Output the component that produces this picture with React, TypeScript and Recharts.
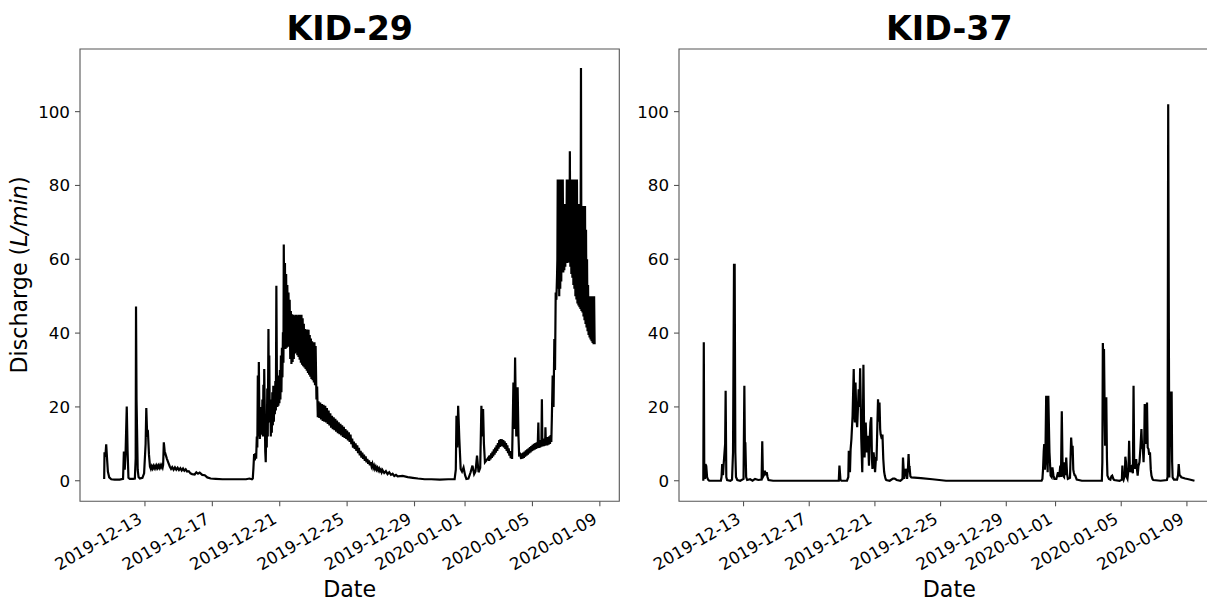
import { LineChart, Line, XAxis, YAxis, ReferenceArea } from "recharts";

// days counted from 2019-12-13 00:00
const tickDays = [0, 4, 8, 12, 16, 19, 23, 27];
const tickLabels = [
  "2019-12-13",
  "2019-12-17",
  "2019-12-21",
  "2019-12-25",
  "2019-12-29",
  "2020-01-01",
  "2020-01-05",
  "2020-01-09",
];
const yTicks = [0, 20, 40, 60, 80, 100];

// [day, discharge L/min]
const kid29: [number, number][] = [
  [-2.42, 0.5], [-2.40, 7.7], [-2.35, 6.5], [-2.30, 9.9], [-2.25, 6.0], [-2.20, 2.5], [-2.12, 0.9], [-2.00, 0.4], [-1.80, 0.3], [-1.50, 0.3], [-1.30, 0.5],
  [-1.25, 7.9], [-1.20, 3.0], [-1.15, 7.5], [-1.08, 20.1], [-1.03, 8.0], [-0.98, 0.8], [-0.90, 0.5], [-0.70, 0.5], [-0.60, 0.6],
  [-0.55, 6.0], [-0.53, 47.2], [-0.50, 22.0], [-0.47, 14.0], [-0.43, 3.0], [-0.38, 1.0], [-0.30, 0.6], [-0.15, 0.8], [-0.05, 2.0],
  [0.04, 10.0], [0.08, 19.7], [0.13, 12.5], [0.18, 12.9], [0.24, 7.0], [0.30, 3.8],
  [0.35, 3.2], [0.40, 3.9], [0.45, 3.3], [0.50, 4.0], [0.55, 3.4], [0.60, 4.0], [0.65, 3.4], [0.70, 4.1], [0.75, 3.5], [0.80, 4.1], [0.85, 3.5],
  [0.90, 4.2], [0.95, 3.6], [1.00, 4.2], [1.05, 3.6], [1.08, 4.3],
  [1.12, 10.4], [1.17, 8.0], [1.22, 7.2], [1.30, 6.0], [1.38, 5.0], [1.48, 3.8], [1.55, 3.2], [1.62, 3.7], [1.70, 3.0], [1.78, 3.6], [1.86, 3.0],
  [1.94, 3.5], [2.02, 2.9], [2.10, 3.4], [2.18, 2.8], [2.26, 3.3], [2.34, 2.7], [2.42, 3.1], [2.50, 2.5], [2.60, 2.6], [2.70, 2.0], [2.80, 1.8],
  [2.95, 1.7], [3.05, 2.3], [3.15, 1.9], [3.25, 2.2], [3.40, 1.6], [3.55, 1.5], [3.70, 0.9], [3.90, 0.6], [4.20, 0.5],
  [4.60, 0.4], [5.00, 0.4], [5.50, 0.4], [6.00, 0.4], [6.20, 0.6], [6.35, 0.4],
  [6.40, 0.6], [6.44, 3.5], [6.48, 7.2], [6.52, 5.5], [6.56, 7.5], [6.60, 6.0], [6.64, 12.0], [6.67, 9.0], [6.70, 28.5], [6.73, 12.0], [6.76, 32.2],
  [6.79, 18.0], [6.82, 11.3], [6.85, 20.0], [6.88, 12.5], [6.91, 16.0], [6.94, 13.0], [6.97, 22.0], [7.00, 12.0], [7.03, 26.0], [7.06, 14.0],
  [7.08, 30.3], [7.11, 20.3], [7.14, 8.0], [7.17, 5.0], [7.20, 15.0], [7.23, 9.0], [7.26, 25.0], [7.29, 12.0], [7.33, 41.1], [7.36, 20.0],
  [7.38, 33.9], [7.41, 15.8], [7.44, 22.0], [7.47, 12.0], [7.50, 20.0], [7.53, 13.0], [7.56, 24.0], [7.59, 15.0], [7.62, 25.7], [7.65, 16.0],
  [7.68, 23.0], [7.71, 18.0], [7.74, 27.0], [7.77, 19.0], [7.80, 52.8], [7.83, 29.4], [7.86, 20.0], [7.89, 26.0], [7.92, 20.3], [7.95, 28.5],
  [7.98, 21.0], [8.01, 30.0], [8.04, 22.0], [8.07, 33.9], [8.10, 24.0], [8.13, 36.0], [8.16, 28.0], [8.19, 40.2], [8.22, 32.0], [8.24, 64.0],
  [8.28, 36.0], [8.31, 59.0], [8.345, 35.7], [8.38, 56.0], [8.415, 36.0], [8.45, 53.0], [8.485, 36.3], [8.52, 51.0], [8.555, 36.6], [8.59, 49.0],
  [8.625, 33.0], [8.66, 46.0], [8.695, 31.6], [8.73, 45.1], [8.765, 32.2], [8.80, 45.0], [8.835, 33.0], [8.87, 44.6], [8.905, 34.5], [8.94, 45.0],
  [8.975, 34.8], [9.01, 45.0], [9.045, 34.0], [9.08, 44.7], [9.115, 33.5], [9.15, 45.0], [9.185, 32.8], [9.22, 45.0], [9.255, 32.0], [9.29, 45.0],
  [9.325, 31.4], [9.36, 44.0], [9.395, 31.0], [9.43, 42.5], [9.465, 30.7], [9.50, 41.1], [9.535, 30.3], [9.57, 41.0], [9.605, 29.8], [9.64, 41.0],
  [9.675, 29.2], [9.71, 40.9], [9.745, 28.7], [9.78, 39.5], [9.815, 28.2], [9.85, 38.5], [9.885, 27.6], [9.92, 37.8], [9.955, 27.2], [9.99, 37.5],
  [10.025, 26.6], [10.06, 37.5], [10.095, 25.9], [10.13, 36.5],
  [10.18, 22.0], [10.22, 25.5], [10.26, 17.2], [10.30, 21.5], [10.35, 17.0], [10.40, 21.2], [10.45, 16.6], [10.50, 20.8], [10.55, 16.2], [10.60, 20.6],
  [10.65, 16.0], [10.70, 20.3], [10.75, 15.8], [10.80, 19.7], [10.85, 15.4], [10.90, 19.0], [10.95, 15.0], [11.00, 18.3], [11.05, 14.4], [11.10, 17.6],
  [11.15, 14.0], [11.20, 17.2], [11.25, 13.7], [11.30, 16.8], [11.35, 13.3], [11.40, 16.3], [11.45, 12.9], [11.50, 15.8], [11.55, 12.6], [11.60, 15.4],
  [11.65, 12.3], [11.70, 15.0], [11.75, 11.9], [11.80, 14.6], [11.85, 11.6], [11.90, 14.0], [11.95, 11.3], [12.00, 13.6], [12.05, 10.9], [12.10, 13.1],
  [12.15, 10.5], [12.20, 12.5], [12.25, 9.9], [12.30, 11.4], [12.35, 9.0], [12.40, 10.6], [12.45, 8.6], [12.50, 10.1], [12.55, 8.1], [12.60, 9.6],
  [12.65, 7.5], [12.70, 8.9], [12.75, 6.9], [12.80, 8.1], [12.85, 6.3], [12.90, 7.6], [12.95, 5.9], [13.00, 7.1], [13.05, 5.4], [13.10, 6.6],
  [13.15, 5.0], [13.20, 5.9], [13.25, 4.6], [13.30, 5.5], [13.35, 4.2], [13.40, 5.0], [13.45, 3.9], [13.50, 4.6], [13.55, 3.5], [13.60, 4.1],
  [13.65, 3.2], [13.70, 3.8], [13.75, 3.0], [13.80, 3.5], [13.85, 2.8], [13.90, 3.3], [13.95, 2.6], [14.00, 3.0], [14.05, 2.3], [14.10, 2.9],
  [14.20, 2.1], [14.30, 2.6], [14.40, 1.8], [14.50, 2.3], [14.60, 1.6], [14.70, 1.9], [14.80, 1.3], [14.90, 1.6], [15.00, 1.2], [15.30, 1.3],
  [15.60, 1.0], [15.90, 0.8], [16.20, 0.6], [16.60, 0.4], [17.00, 0.4], [17.50, 0.3], [18.00, 0.4], [18.38, 0.4],
  [18.45, 3.0], [18.49, 17.6], [18.54, 9.0], [18.59, 20.3], [18.66, 11.3], [18.74, 3.2], [18.82, 2.5], [18.91, 3.6], [19.00, 1.5], [19.08, 0.5],
  [19.20, 0.6], [19.33, 2.3], [19.44, 4.1], [19.54, 1.8], [19.62, 2.5], [19.71, 6.8], [19.80, 2.3], [19.90, 3.5], [19.97, 20.3], [20.02, 12.0],
  [20.07, 19.4], [20.12, 10.0], [20.18, 5.0], [20.28, 5.6], [20.39, 6.3],
  [20.43, 5.4], [20.47, 6.9], [20.51, 5.8], [20.55, 7.4], [20.59, 6.2], [20.63, 7.9], [20.67, 6.6], [20.71, 8.5], [20.75, 7.1], [20.79, 9.0],
  [20.83, 7.6], [20.87, 9.6], [20.91, 8.1], [20.95, 10.2], [20.99, 8.7], [21.03, 11.0], [21.07, 9.2], [21.11, 11.3], [21.15, 9.4], [21.19, 11.2],
  [21.23, 9.3], [21.27, 11.0], [21.31, 9.0], [21.35, 10.7], [21.39, 8.6], [21.43, 10.2], [21.47, 8.1], [21.51, 9.6], [21.55, 7.5], [21.59, 8.8],
  [21.63, 6.8], [21.67, 8.0], [21.71, 6.1], [21.75, 7.3], [21.79, 5.9],
  [21.84, 18.0], [21.87, 26.6], [21.92, 14.0], [21.97, 33.4], [22.01, 20.0], [22.04, 12.0], [22.08, 20.0], [22.12, 25.3], [22.17, 12.0], [22.21, 7.0],
  [22.27, 7.2], [22.33, 5.9], [22.37, 7.4], [22.41, 6.0], [22.45, 7.6], [22.49, 6.2], [22.53, 7.9], [22.57, 6.5], [22.61, 8.2], [22.65, 6.8],
  [22.69, 8.5], [22.73, 7.1], [22.77, 8.8], [22.81, 7.4], [22.85, 9.1], [22.89, 7.7], [22.93, 9.4], [22.97, 8.0], [23.01, 9.7], [23.05, 8.2],
  [23.09, 10.0], [23.13, 8.4], [23.17, 10.2], [23.21, 8.6], [23.25, 10.4], [23.29, 8.8], [23.32, 10.6], [23.35, 15.8], [23.38, 8.9], [23.42, 10.8],
  [23.46, 9.0], [23.50, 11.0], [23.53, 9.2], [23.56, 22.1], [23.59, 9.3], [23.63, 11.2], [23.67, 9.4], [23.71, 11.4], [23.75, 9.5], [23.77, 14.5],
  [23.80, 9.6], [23.84, 11.6], [23.88, 9.6], [23.92, 11.8], [23.96, 9.8], [24.00, 12.0], [24.04, 10.0], [24.08, 12.4], [24.12, 10.5], [24.15, 16.7],
  [24.20, 28.5], [24.25, 20.0], [24.30, 38.4], [24.34, 30.0], [24.38, 51.0], [24.42, 49.0], [24.46, 55.6],
  [24.48, 60.0], [24.50, 81.6], [24.53, 52.0], [24.56, 81.6], [24.59, 50.0], [24.62, 78.0], [24.65, 52.0], [24.68, 81.6], [24.71, 54.0], [24.74, 75.0],
  [24.77, 56.4], [24.80, 81.6], [24.83, 56.4], [24.86, 75.0], [24.89, 57.0], [24.92, 74.0], [24.95, 58.0], [24.98, 75.0], [25.01, 59.1], [25.04, 81.6],
  [25.07, 59.0], [25.10, 78.0], [25.13, 59.1], [25.17, 81.6], [25.20, 60.0], [25.22, 89.3], [25.25, 58.0], [25.28, 81.6], [25.31, 56.0], [25.34, 76.0],
  [25.37, 55.0], [25.40, 81.6], [25.43, 53.0], [25.46, 75.0], [25.49, 52.0], [25.52, 81.6], [25.55, 50.0], [25.58, 75.0], [25.61, 49.1], [25.64, 81.6],
  [25.67, 48.0], [25.70, 74.4], [25.73, 47.5], [25.76, 75.0], [25.79, 47.0], [25.82, 74.0], [25.85, 46.5], [25.88, 111.8], [25.91, 46.0], [25.94, 74.4],
  [25.97, 45.6], [26.00, 74.4], [26.03, 44.5], [26.06, 74.4], [26.09, 43.5], [26.12, 74.4], [26.15, 42.5], [26.18, 68.0], [26.21, 41.5], [26.24, 60.0],
  [26.27, 40.5], [26.30, 53.0], [26.33, 39.5], [26.36, 50.0], [26.39, 38.8], [26.42, 50.0], [26.45, 38.3], [26.48, 50.0], [26.51, 37.8], [26.54, 50.0],
  [26.57, 37.3], [26.60, 50.0], [26.63, 37.0], [26.66, 50.0], [26.69, 37.0],
];

const kid37: [number, number][] = [
  [-2.45, 0.0], [-2.42, 37.5], [-2.39, 1.0], [-2.35, 0.5], [-2.32, 4.5], [-2.27, 4.0], [-2.22, 1.0], [-2.16, 0.3], [-2.09, 0.0], [-1.70, 0.0], [-1.38, 0.0],
  [-1.34, 1.0], [-1.30, 4.5], [-1.25, 1.5], [-1.21, 4.5], [-1.12, 10.0], [-1.09, 24.4], [-1.05, 1.0], [-1.00, 0.2], [-0.80, 0.0], [-0.70, 0.3],
  [-0.64, 7.7], [-0.58, 58.5], [-0.54, 58.5], [-0.50, 7.7], [-0.46, 1.0], [-0.38, 0.2], [-0.20, 0.0], [0.00, 0.5],
  [0.05, 25.7], [0.08, 10.0], [0.11, 10.4], [0.16, 1.0], [0.22, 0.2], [0.40, 0.4], [0.55, 0.0], [0.70, 0.5], [0.90, 0.2], [1.10, 0.3],
  [1.14, 10.7], [1.18, 1.0], [1.24, 1.5], [1.30, 2.7], [1.36, 1.5], [1.41, 2.3], [1.46, 1.0], [1.52, 0.2], [1.80, 0.0], [3.00, 0.0], [4.50, 0.0], [5.80, 0.0],
  [5.84, 4.1], [5.90, 0.3], [5.96, 0.0], [6.30, 0.0], [6.38, 1.0],
  [6.41, 8.1], [6.48, 2.3], [6.52, 8.5], [6.57, 11.3], [6.64, 17.6], [6.71, 30.3], [6.75, 18.0], [6.78, 15.8], [6.82, 26.6], [6.87, 17.0], [6.92, 14.5],
  [6.97, 20.0], [7.01, 24.8], [7.06, 20.0], [7.10, 30.5], [7.14, 20.0], [7.17, 11.3], [7.23, 2.3], [7.27, 15.0], [7.30, 31.4], [7.34, 14.0], [7.37, 6.3],
  [7.44, 15.8], [7.51, 7.7], [7.57, 12.2], [7.64, 4.1], [7.69, 12.0], [7.73, 15.8], [7.78, 17.2], [7.82, 6.0], [7.85, 3.2], [7.92, 7.7], [7.97, 5.0],
  [8.01, 2.3], [8.06, 6.0], [8.10, 5.9], [8.15, 15.0], [8.19, 22.1], [8.24, 16.0], [8.28, 21.2], [8.32, 14.0], [8.35, 12.6], [8.42, 11.3], [8.46, 12.5],
  [8.51, 5.9], [8.56, 2.5], [8.60, 1.4], [8.65, 0.5], [8.69, 0.2], [8.90, 0.0],
  [9.10, 0.6], [9.20, 0.6], [9.33, 0.2], [9.55, 0.0], [9.68, 0.5], [9.71, 6.3], [9.75, 3.0], [9.78, 0.5], [9.83, 2.0], [9.87, 3.2], [9.92, 2.5],
  [9.96, 0.5], [10.01, 3.0], [10.05, 7.2], [10.09, 3.0], [10.12, 3.2], [10.16, 1.2], [10.22, 0.9], [10.80, 0.7], [11.50, 0.4], [12.33, 0.0], [15.00, 0.0], [18.15, 0.0],
  [18.20, 0.5], [18.24, 3.2], [18.28, 8.0], [18.31, 9.9], [18.35, 3.0], [18.38, 5.8], [18.43, 23.0], [18.47, 8.0], [18.52, 2.3], [18.56, 23.0], [18.60, 14.0],
  [18.63, 7.7], [18.70, 1.4], [18.76, 1.0], [18.81, 3.6], [18.87, 1.5], [18.93, 0.5], [19.05, 0.5], [19.15, 2.3], [19.22, 1.0], [19.29, 4.1], [19.33, 1.0],
  [19.38, 18.8], [19.42, 6.0], [19.45, 1.4], [19.52, 1.0], [19.56, 5.0], [19.61, 1.5], [19.65, 6.3], [19.70, 2.0], [19.75, 0.5], [19.88, 0.8], [19.95, 11.7],
  [20.00, 8.0], [20.04, 9.5], [20.08, 3.0], [20.11, 2.3], [20.16, 1.5], [20.20, 1.4], [20.29, 0.3], [20.60, 0.0], [21.20, 0.0], [21.82, 0.0],
  [21.85, 5.0], [21.88, 37.3], [21.92, 30.0], [21.95, 35.7], [22.00, 15.0], [22.02, 9.5], [22.06, 20.0], [22.09, 22.6], [22.13, 6.0], [22.16, 1.4],
  [22.25, 0.5], [22.34, 0.3], [22.40, 1.2], [22.45, 1.4], [22.52, 0.5], [22.57, 0.2], [22.90, 0.0], [23.04, 0.3],
  [23.07, 4.1], [23.11, 0.5], [23.14, 0.2], [23.22, 1.5], [23.25, 6.5], [23.29, 5.0], [23.33, 1.0], [23.38, 0.5], [23.44, 3.0], [23.48, 10.8], [23.52, 4.5],
  [23.57, 2.3], [23.62, 4.0], [23.66, 4.1], [23.71, 2.0], [23.75, 25.7], [23.79, 5.0], [23.82, 3.2], [23.87, 4.5], [23.91, 5.9], [23.96, 3.0], [24.00, 1.4],
  [24.05, 4.0], [24.11, 5.0], [24.17, 9.0], [24.23, 14.0], [24.27, 9.0], [24.32, 8.6], [24.36, 5.0], [24.40, 10.0], [24.43, 20.8], [24.47, 10.0],
  [24.50, 13.0], [24.54, 16.0], [24.57, 21.2], [24.61, 9.0], [24.66, 8.6], [24.70, 7.0], [24.75, 7.7], [24.80, 3.0], [24.84, 1.4], [24.90, 0.5],
  [24.95, 0.2], [25.40, 0.0], [25.78, 0.2],
  [25.82, 1.0], [25.86, 102.0], [25.90, 40.0], [25.93, 0.9], [25.96, 10.0], [25.98, 23.9], [26.07, 23.9], [26.10, 5.0], [26.13, 0.9], [26.21, 0.3],
  [26.40, 0.3], [26.46, 1.5], [26.50, 4.5], [26.55, 1.5], [26.59, 1.4], [26.66, 0.9], [26.89, 0.6], [27.10, 0.4], [27.46, 0.0],
];

const font = "DejaVu Sans, sans-serif";
const yDomain: [number, number] = [-5.57, 116.97];
const frame = "#555";

function DateTick({ x, y, payload }: any) {
  const label = tickLabels[tickDays.indexOf(payload.value)];
  return (
    <g transform={`translate(${x - 1.75},${y + 11})`}>
      <text textAnchor="end" transform="rotate(-30)" fontSize={16.7} fontFamily={font} fill="#000">
        {label}
      </text>
    </g>
  );
}

function Panel({ series, left, width, plotLeft, plotWidth, xDomain }: any) {
  const rows = series.map(([t, v]: [number, number]) => ({ t, v }));
  const axisW = 30;
  const axisH = 30;
  return (
    <div style={{ position: "absolute", left, top: 0 }}>
      <LineChart
        width={width}
        height={603}
        data={rows}
        margin={{
          top: 49,
          right: width - plotLeft - plotWidth,
          bottom: 101.7 - axisH,
          left: plotLeft - axisW,
        }}
      >
        <XAxis
          type="number"
          dataKey="t"
          domain={xDomain}
          ticks={tickDays}
          interval={0}
          height={axisH}
          tickSize={5}
          tickMargin={5}
          axisLine={false}
          tickLine={{ stroke: frame, strokeWidth: 1.1 }}
          tick={(p: any) => <DateTick {...p} />}
          allowDataOverflow
        />
        <YAxis
          type="number"
          domain={yDomain}
          ticks={yTicks}
          interval={0}
          width={axisW}
          tickSize={5}
          tickMargin={5}
          axisLine={false}
          tickLine={{ stroke: frame, strokeWidth: 1.1 }}
          tick={{ fill: "#000", fontSize: 16.7, fontFamily: font }}
          allowDataOverflow
        />
        <Line
          type="linear"
          dataKey="v"
          stroke="#000"
          strokeWidth={2.2}
          dot={false}
          isAnimationActive={false}
        />
        <ReferenceArea
          x1={xDomain[0]}
          x2={xDomain[1]}
          y1={yDomain[0]}
          y2={yDomain[1]}
          fill="none"
          stroke={frame}
          strokeWidth={1.1}
          ifOverflow="visible"
        />
      </LineChart>
    </div>
  );
}

export default function App() {
  return (
    <div
      style={{
        position: "fixed",
        left: 0,
        top: 0,
        width: 1207,
        height: 603,
        overflow: "hidden",
        background: "#fff",
      }}
    >
      <Panel series={kid29} left={0} width={640} plotLeft={80} plotWidth={539.3} xDomain={[-3.855, 28.155]} />
      <Panel series={kid37} left={590} width={650} plotLeft={89} plotWidth={540.6} xDomain={[-3.93, 28.99]} />
      <svg width={1207} height={603} style={{ position: "absolute", left: 0, top: 0, pointerEvents: "none" }}>
        <g fontFamily={font} fill="#000">
          <text x={349.7} y={40} textAnchor="middle" fontSize={33.3} fontWeight="bold">KID-29</text>
          <text x={949.3} y={40} textAnchor="middle" fontSize={33.3} fontWeight="bold">KID-37</text>
          <text x={349.7} y={597} textAnchor="middle" fontSize={22.2}>Date</text>
          <text x={949.3} y={597} textAnchor="middle" fontSize={22.2}>Date</text>
          <text transform="translate(27,275) rotate(-90)" textAnchor="middle" fontSize={22.2}>
            Discharge (<tspan fontStyle="italic">L/min</tspan>)
          </text>
        </g>
      </svg>
    </div>
  );
}
